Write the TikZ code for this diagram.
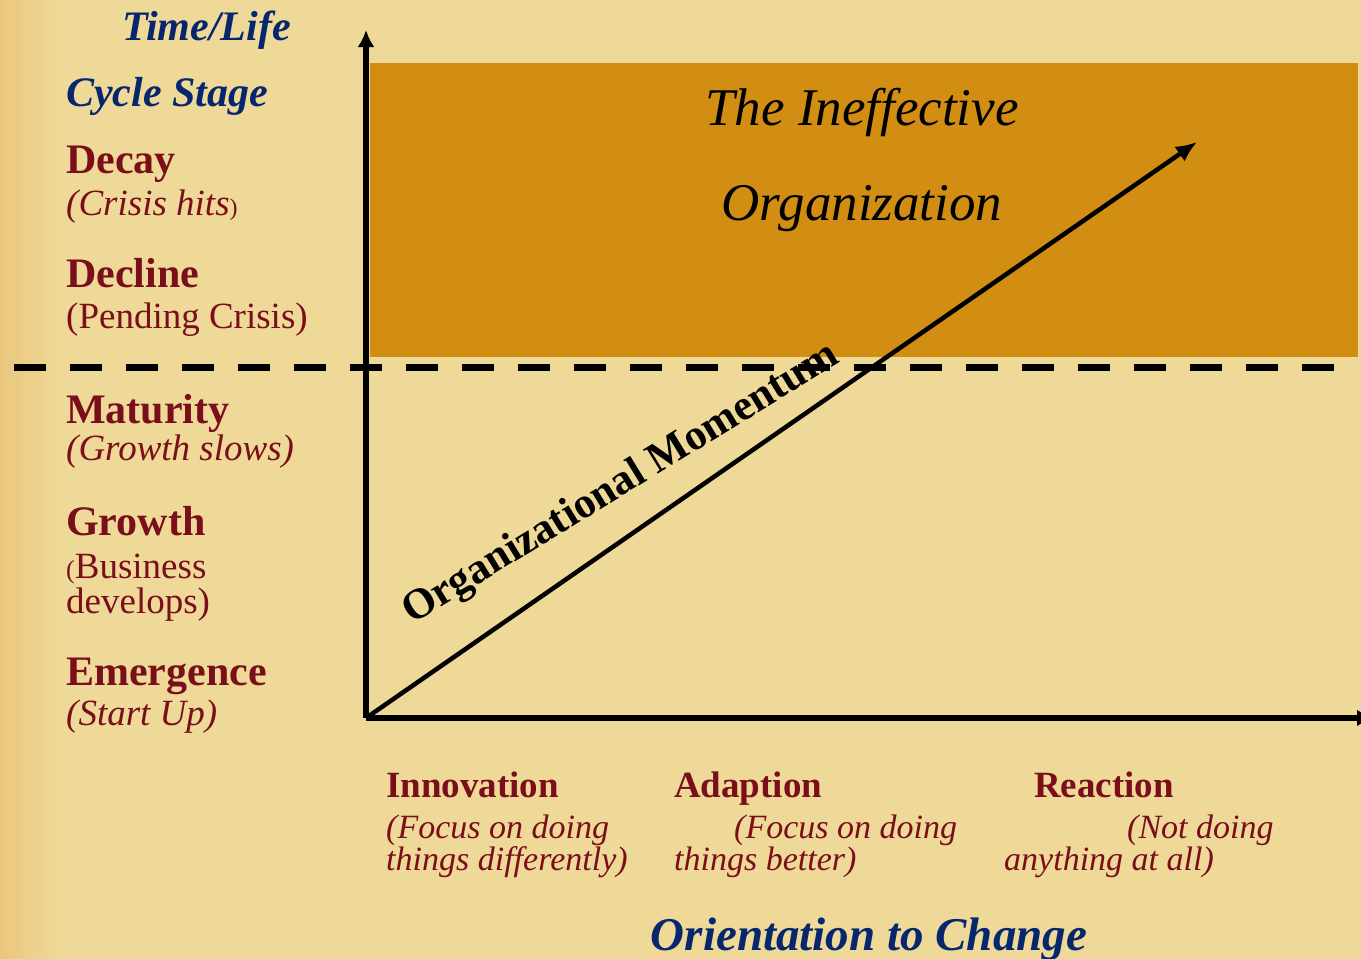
\documentclass[tikz,border=0pt]{standalone}
\usepackage{fontspec}
\setmainfont{Liberation Serif}
\usetikzlibrary{arrows.meta}
\definecolor{parch}{RGB}{239,217,152}
\definecolor{parchedge}{RGB}{234,198,124}
\definecolor{ochre}{RGB}{209,142,18}
\definecolor{wine}{RGB}{122,14,26}
\definecolor{navy}{RGB}{6,38,110}
\newcommand{\fsz}[1]{\fontsize{#1}{#1}\selectfont}
\begin{document}
\begin{tikzpicture}[x=1pt,y=-1pt,
  lbl/.style={inner sep=0pt, anchor=base west},
  axistitle/.style={lbl, text=navy, font=\fsz{42}\bfseries\itshape},
  stage/.style={lbl, text=wine, font=\fsz{42}\bfseries},
  stagenote/.style={lbl, text=wine, font=\fsz{37}},
  orient/.style={lbl, text=wine, font=\fsz{37}\bfseries},
  orientnote/.style={lbl, text=wine, font=\fsz{34}\itshape},
  axis/.style={line width=5.5pt, -{Latex[length=17pt,width=17pt]}},
  momentum/.style={line width=4.5pt, -{Latex[length=21pt,width=18pt]}},
  boundary/.style={line width=7pt, dash pattern=on 32pt off 24pt}]

% page and parchment background
\useasboundingbox (0,0) rectangle (1361,959);
\clip (0,0) rectangle (1361,959);
\fill[parch] (0,0) rectangle (1361,959);
\shade[left color=parchedge, right color=parch] (0,0) rectangle (60,959);

% the ineffective zone
\fill[ochre] (370,63) rectangle (1358,357);
\node[inner sep=0pt, anchor=base, font=\fsz{53}\itshape] (zone1) at (862,125) {The Ineffective};
\node[inner sep=0pt, anchor=base, font=\fsz{53}\itshape] (zone2) at (862,220) {Organization};

% boundary between healthy and declining stages
\coordinate (bstart) at (14,367);
\coordinate (bend) at (1340,367);
\draw[boundary] (bstart) -- (bend);

% axes
\coordinate (origin) at (366,718);
\coordinate (ytop) at (366,30);
\coordinate (xend) at (1374,718);
\coordinate (mtip) at (1197,142);
\draw[axis] (origin) -- (ytop);
\draw[axis] (origin) -- (xend);
\draw[momentum] (origin) -- (mtip);
\node[inner sep=0pt, anchor=base west, rotate=31.5, font=\fsz{43}\bfseries] (mlabel) at (412,625) {Organizational Momentum};

% vertical axis: life cycle stages
\node[axistitle] (ytitle1) at (122,40) {Time/Life};
\node[axistitle] (ytitle2) at (66,106) {Cycle Stage};
\node[stage] (decay) at (66,173) {Decay};
\node[stagenote, font=\fsz{37}\itshape] (decayn) at (66,215) {(Crisis hits{\fsz{24}\upshape)}};
\node[stage] (decline) at (66,287) {Decline};
\node[stagenote] (declinen) at (66,328) {(Pending Crisis)};
\node[stage] (maturity) at (66,423) {Maturity};
\node[stagenote, font=\fsz{37}\itshape] (maturityn) at (66,460) {(Growth slows)};
\node[stage] (growth) at (66,535) {Growth};
\node[stagenote] (growthn1) at (66,578) {{\fsz{26}(}Business};
\node[stagenote] (growthn2) at (66,613) {develops)};
\node[stage] (emerg) at (66,685) {Emergence};
\node[stagenote, font=\fsz{37}\itshape] (emergn) at (66,725) {(Start Up)};

% horizontal axis: orientation to change
\node[orient] (innov) at (386,797) {Innovation};
\node[orientnote] (innovn1) at (386,838) {(Focus on doing};
\node[orientnote] (innovn2) at (386,870) {things differently)};
\node[orient] (adapt) at (674,797) {Adaption};
\node[orientnote] (adaptn1) at (734,838) {(Focus on doing};
\node[orientnote] (adaptn2) at (674,870) {things better)};
\node[orient] (react) at (1034,797) {Reaction};
\node[orientnote] (reactn1) at (1127,838) {(Not doing};
\node[orientnote] (reactn2) at (1004,870) {anything at all)};
\node[inner sep=0pt, anchor=base, text=navy, font=\fsz{47}\bfseries\itshape] (xtitle) at (869,950) {Orientation to Change};
\end{tikzpicture}
\end{document}
